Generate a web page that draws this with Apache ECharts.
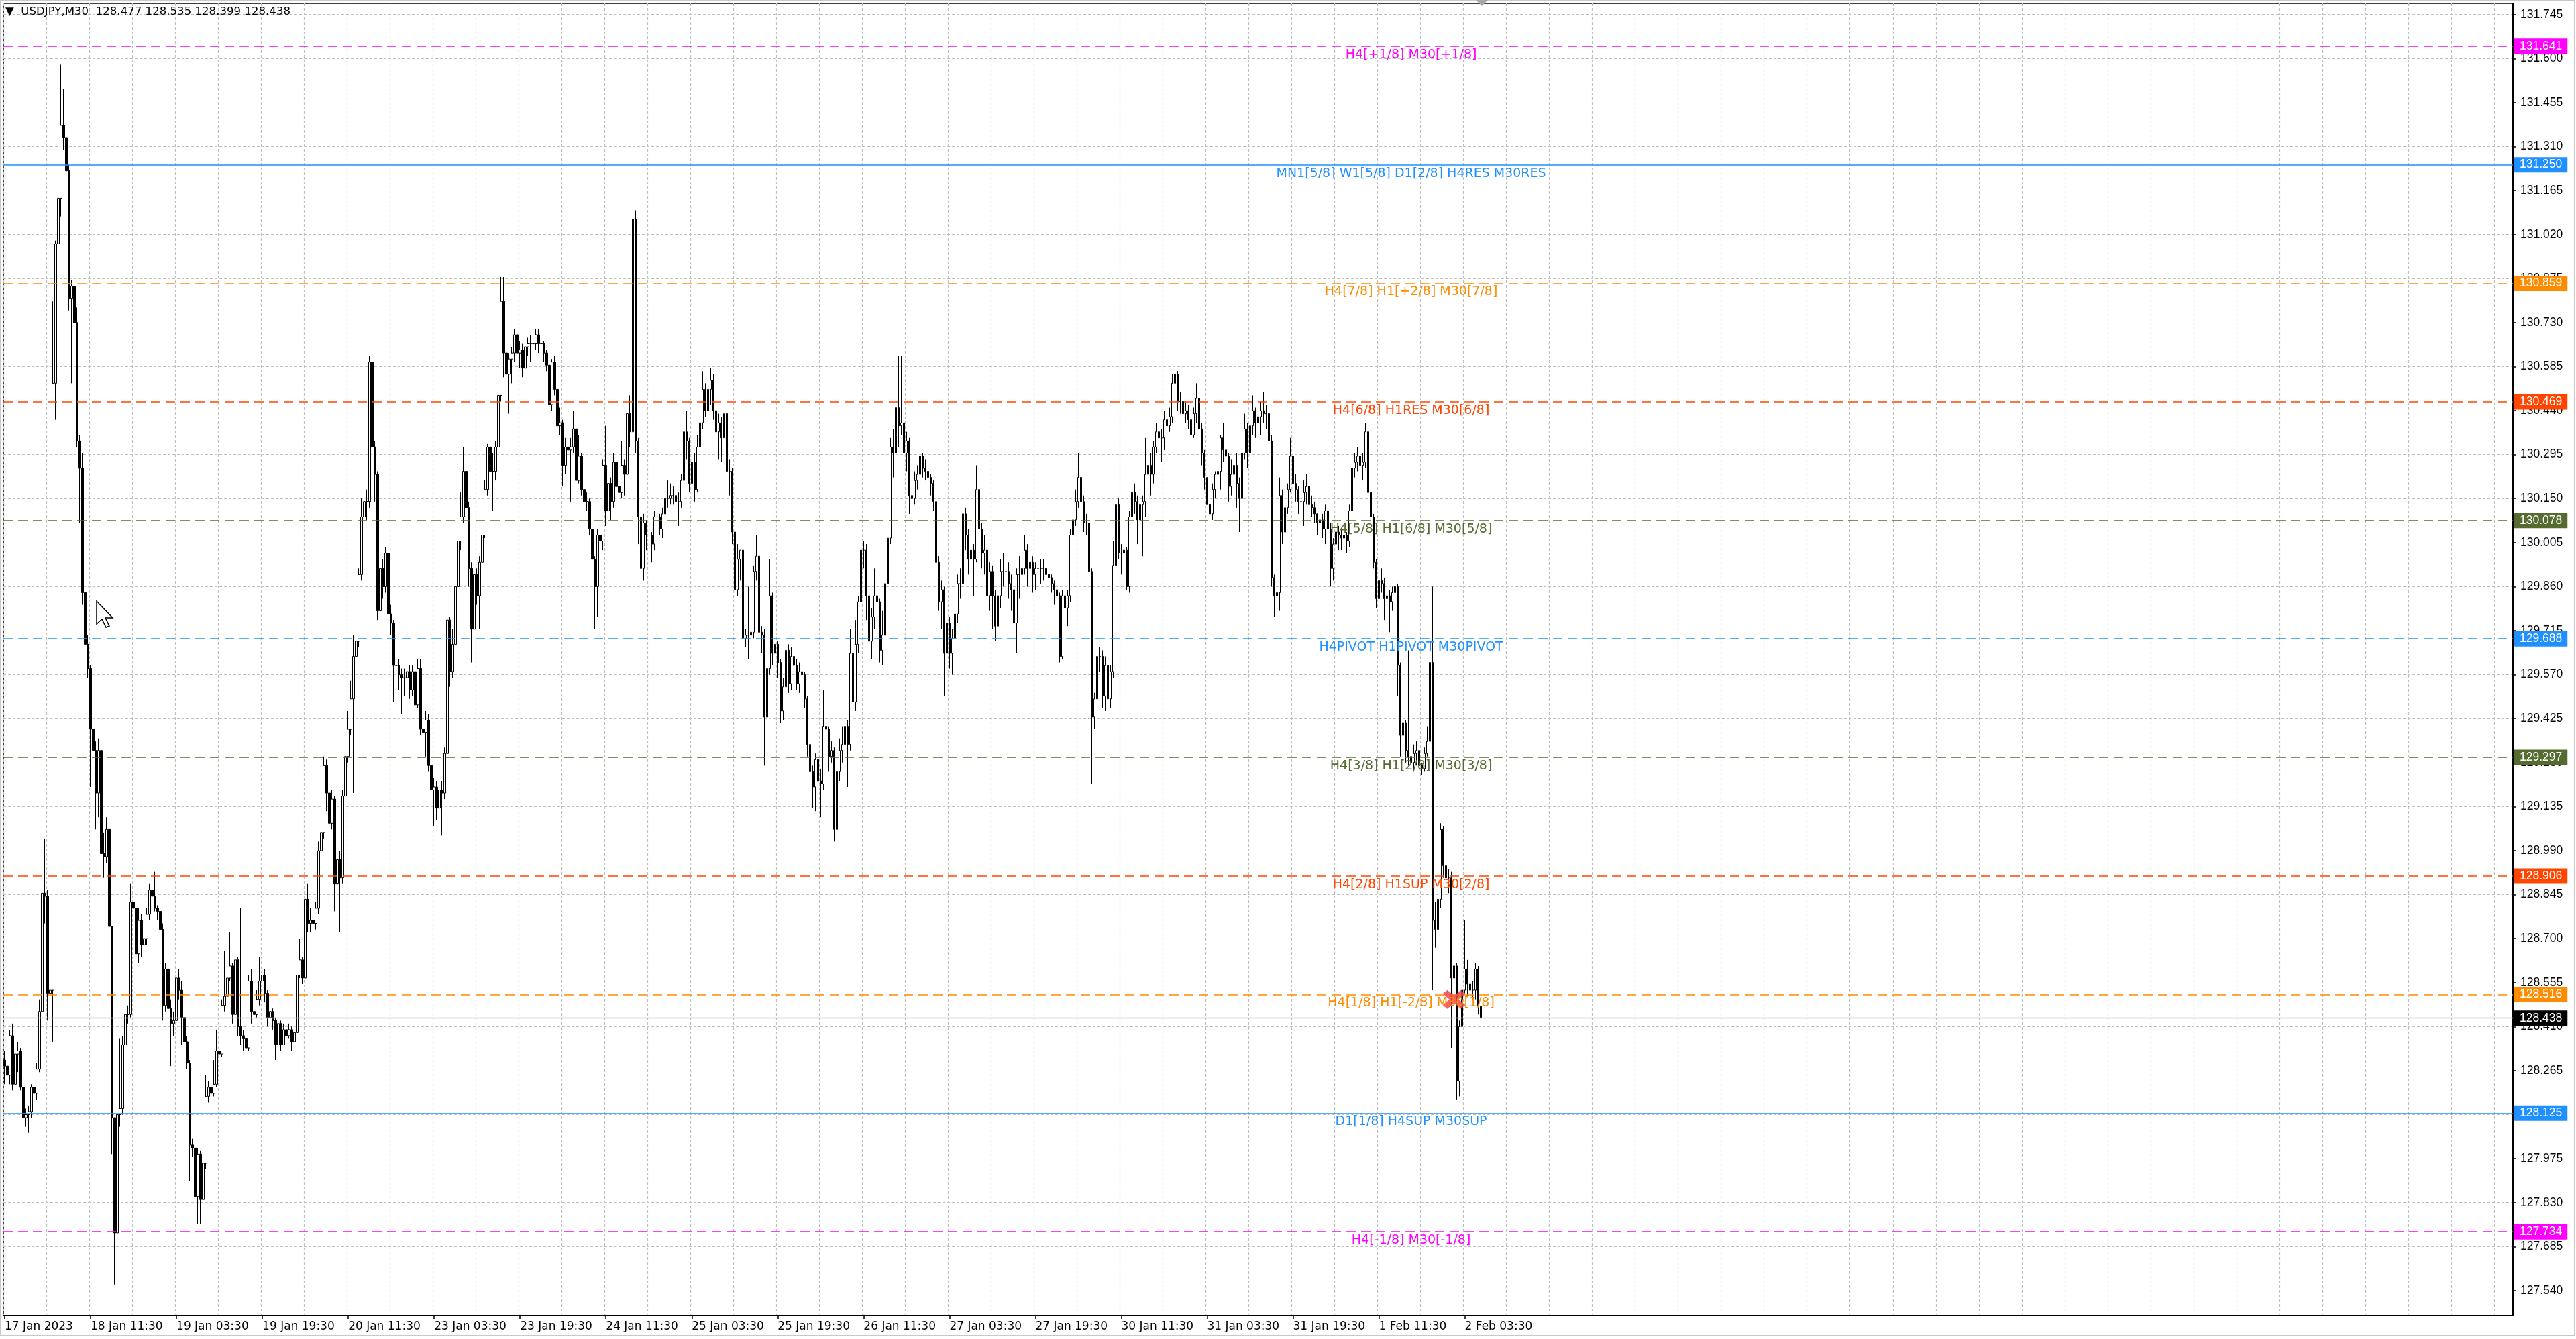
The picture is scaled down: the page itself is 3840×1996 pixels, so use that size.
<!DOCTYPE html>
<html>
<head>
<meta charset="utf-8">
<title>USDJPY,M30</title>
<script src="https://cdn.jsdelivr.net/npm/echarts@6/dist/echarts.min.js"></script>
<style>
html, body { margin: 0; padding: 0; background: #fff; }
#main { width: 3840px; height: 1996px; }
</style>
</head>
<body>
<div id="main"></div>
<script>
// USDJPY M30, one close/high/low per bar, open = previous close
var symbolName = 'USDJPY,M30';
var lastBar = [128.477, 128.535, 128.399, 128.438];
var firstOpen = 128.30;

var closes = [
    128.28,128.25,128.38,128.22,128.32,128.33,128.21,128.11,128.12,128.13,
    128.21,128.19,128.27,128.46,128.85,128.84,128.52,128.53,130.53,130.99,
    131.14,131.38,131.34,131.23,130.81,130.85,130.73,130.34,130.25,129.84,
    129.67,129.59,129.39,129.32,129.18,129.32,128.98,128.97,129.06,128.74,
    128.11,127.73,128.12,128.14,128.35,128.45,128.45,128.82,128.80,128.65,
    128.76,128.68,128.70,128.78,128.86,128.84,128.80,128.79,128.73,128.48,
    128.60,128.47,128.42,128.43,128.57,128.53,128.44,128.36,128.29,128.02,
    128.01,127.85,127.99,127.84,127.96,128.18,128.21,128.19,128.22,128.33,
    128.32,128.48,128.51,128.57,128.61,128.45,128.63,128.41,128.38,128.37,
    128.34,128.56,128.46,128.45,128.50,128.56,128.58,128.52,128.44,128.46,
    128.43,128.35,128.42,128.35,128.40,128.38,128.40,128.36,128.39,128.58,
    128.63,128.57,128.83,128.75,128.76,128.75,128.80,128.99,129.05,129.27,
    129.18,129.08,129.16,128.88,128.96,128.90,129.17,129.30,129.39,129.49,
    129.63,129.68,129.90,130.09,130.14,130.14,130.60,130.32,130.23,129.78,
    129.92,129.86,129.97,129.77,129.74,129.60,129.60,129.57,129.56,129.56,
    129.58,129.52,129.58,129.47,129.59,129.39,129.38,129.42,129.27,129.19,
    129.20,129.13,129.19,129.18,129.31,129.75,129.58,129.67,129.86,130.01,
    130.09,130.24,130.12,129.92,129.72,129.90,129.83,129.94,130.03,130.18,
    130.32,130.24,130.24,130.32,130.49,130.80,130.63,130.56,130.61,130.63,
    130.69,130.63,130.64,130.58,130.65,130.66,130.66,130.66,130.69,130.66,
    130.66,130.63,130.59,130.46,130.60,130.51,130.39,130.40,130.26,130.32,
    130.31,130.32,130.38,130.21,130.29,130.18,130.14,130.14,130.05,129.95,
    129.86,130.03,130.01,130.26,130.11,130.20,130.14,130.27,130.19,130.17,
    130.26,130.23,130.43,130.37,131.07,130.34,130.09,129.92,130.07,130.03,
    130.03,130.00,130.09,130.09,130.05,130.10,130.15,130.15,130.16,130.16,
    130.14,130.14,130.21,130.37,130.34,130.20,130.27,130.18,130.32,130.40,
    130.51,130.44,130.51,130.54,130.44,130.37,130.40,130.35,130.43,130.24,
    130.24,130.04,129.85,129.95,129.98,129.69,129.70,129.70,129.71,129.91,
    129.96,129.71,129.70,129.43,129.59,129.83,129.64,129.67,129.61,129.45,
    129.53,129.65,129.54,129.63,129.60,129.54,129.58,129.57,129.49,129.34,
    129.25,129.20,129.29,129.22,129.21,129.40,129.39,129.30,129.32,129.06,
    129.25,129.32,129.34,129.40,129.34,129.64,129.48,129.67,129.81,129.98,
    129.98,129.83,129.68,129.76,129.83,129.81,129.65,129.70,129.87,130.02,
    130.32,130.30,130.45,130.39,130.40,130.30,130.34,130.16,130.15,130.21,
    130.23,130.29,130.25,130.24,130.22,130.20,130.14,129.94,129.81,129.85,
    129.64,129.74,129.64,129.69,129.77,129.87,129.87,130.10,130.03,129.95,
    129.98,129.95,130.18,130.05,129.97,129.98,129.83,129.91,129.83,129.73,
    129.83,129.91,129.91,129.91,129.87,129.85,129.74,129.90,129.90,129.92,
    129.98,129.92,129.94,129.90,129.92,129.92,129.92,129.92,129.90,129.89,
    129.87,129.85,129.83,129.63,129.83,129.79,129.83,130.03,130.08,130.14,
    130.22,130.14,130.07,130.07,129.91,129.43,129.49,129.63,129.63,129.50,
    129.60,129.49,129.58,129.93,130.13,129.97,129.97,129.98,129.86,130.09,
    130.17,130.14,130.08,130.13,130.14,130.23,130.26,130.23,130.32,130.37,
    130.35,130.35,130.41,130.39,130.42,130.53,130.56,130.47,130.47,130.43,
    130.44,130.41,130.36,130.43,130.48,130.38,130.30,130.22,130.13,130.10,
    130.18,130.23,130.24,130.35,130.31,130.29,130.19,130.23,130.26,130.20,
    130.15,130.30,130.38,130.30,130.39,130.44,130.40,130.42,130.44,130.43,
    130.43,130.34,129.89,129.83,129.84,130.16,130.04,130.12,130.18,130.29,
    130.20,130.18,130.14,130.14,130.17,130.19,130.13,130.12,130.10,130.07,
    130.08,130.05,130.11,130.05,129.92,130.00,130.04,130.03,130.02,130.03,
    130.01,130.11,130.25,130.27,130.29,130.26,130.27,130.37,130.17,130.09,
    129.94,129.82,129.88,129.87,129.82,129.83,129.81,129.84,129.86,129.60,
    129.37,129.41,129.32,129.30,129.28,129.31,129.32,129.27,129.26,129.31,
    129.35,129.61,128.76,128.73,128.83,129.06,128.94,128.90,128.90,128.57,
    128.61,128.23,128.41,128.53,128.60,128.55,128.53,128.53,128.60,128.477,
    128.438
];

var highs = [
    128.33,128.30,128.40,128.42,128.34,128.36,128.34,128.22,128.14,128.15,
    128.22,128.24,128.29,128.50,128.88,129.03,128.86,128.56,130.80,131.00,
    131.16,131.58,131.50,131.54,131.25,130.87,131.23,130.78,130.36,130.30,
    129.87,129.70,129.60,129.42,129.35,129.36,129.35,129.05,129.10,129.08,
    128.74,128.11,128.14,128.37,128.38,128.61,128.48,128.88,128.94,128.82,
    128.80,128.78,128.76,128.80,128.88,128.92,128.92,128.81,128.84,128.75,
    128.62,128.60,128.50,128.46,128.69,128.60,128.56,128.45,128.38,128.30,
    128.04,128.03,128.01,128.00,127.98,128.25,128.23,128.23,128.30,128.40,
    128.36,128.50,128.66,128.59,128.72,128.62,128.64,128.64,128.80,128.40,
    128.38,128.58,128.60,128.52,128.53,128.64,128.62,128.60,128.53,128.49,
    128.47,128.44,128.43,128.43,128.42,128.42,128.42,128.41,128.41,128.62,
    128.70,128.64,128.87,128.88,128.80,128.79,128.82,129.02,129.10,129.30,
    129.29,129.19,129.19,129.17,129.04,128.99,129.19,129.36,129.45,129.55,
    129.70,129.73,129.92,130.15,130.17,130.18,130.62,130.61,130.34,130.24,
    129.95,129.95,129.99,129.99,129.80,129.75,129.65,129.62,129.59,129.59,
    129.61,129.60,129.60,129.60,129.62,129.62,129.42,129.45,129.44,129.28,
    129.23,129.22,129.21,129.22,129.33,129.77,129.76,129.72,129.89,130.04,
    130.17,130.32,130.30,130.14,129.94,129.92,129.92,129.96,130.06,130.21,
    130.33,130.34,130.30,130.34,130.52,130.88,130.88,130.65,130.63,130.65,
    130.71,130.72,130.67,130.66,130.67,130.68,130.69,130.69,130.71,130.71,
    130.68,130.67,130.64,130.60,130.61,130.62,130.52,130.45,130.41,130.35,
    130.36,130.35,130.44,130.39,130.36,130.30,130.22,130.17,130.15,130.06,
    129.96,130.05,130.06,130.28,130.39,130.23,130.22,130.30,130.28,130.21,
    130.34,130.28,130.44,130.49,131.11,131.10,130.35,130.10,130.10,130.08,
    130.06,130.04,130.11,130.11,130.10,130.12,130.17,130.21,130.20,130.19,
    130.18,130.17,130.23,130.42,130.44,130.35,130.30,130.30,130.36,130.45,
    130.57,130.53,130.57,130.58,130.56,130.45,130.43,130.42,130.46,130.44,
    130.28,130.25,130.05,130.00,129.98,129.98,129.72,129.86,129.73,129.93,
    130.03,129.98,129.73,129.72,129.61,129.95,129.84,129.74,129.68,129.62,
    129.56,129.68,129.67,129.66,129.65,129.62,129.61,129.61,129.58,129.50,
    129.35,129.27,129.31,129.31,129.26,129.52,129.43,129.40,129.35,129.33,
    129.27,129.36,129.40,129.43,129.42,129.72,129.66,129.75,129.83,130.00,
    130.01,130.00,129.85,129.79,129.92,129.86,129.82,129.78,130.00,130.23,
    130.35,130.38,130.55,130.62,130.62,130.43,130.37,130.35,130.19,130.24,
    130.26,130.31,130.30,130.28,130.27,130.23,130.21,130.15,129.96,129.88,
    129.86,129.76,129.76,129.72,129.80,129.90,129.92,130.16,130.12,130.05,
    130.02,130.00,130.26,130.27,130.07,130.03,130.00,129.94,129.93,129.85,
    129.85,129.95,129.97,129.95,129.94,129.90,129.87,129.92,129.96,130.07,
    130.03,130.00,129.98,129.96,129.94,129.96,129.95,129.95,129.93,129.93,
    129.90,129.88,129.86,129.84,129.85,129.86,129.85,130.05,130.15,130.18,
    130.30,130.27,130.16,130.10,130.08,129.92,129.51,129.68,129.66,129.65,
    129.63,129.62,129.60,130.01,130.18,130.15,130.00,130.01,129.99,130.11,
    130.26,130.20,130.16,130.15,130.16,130.35,130.29,130.30,130.34,130.40,
    130.47,130.38,130.44,130.44,130.45,130.56,130.57,130.57,130.50,130.48,
    130.47,130.46,130.43,130.45,130.53,130.48,130.40,130.31,130.23,130.15,
    130.20,130.24,130.28,130.36,130.40,130.33,130.30,130.28,130.28,130.30,
    130.22,130.31,130.43,130.40,130.41,130.49,130.45,130.45,130.47,130.50,
    130.46,130.44,130.36,129.90,129.97,130.22,130.18,130.16,130.20,130.35,
    130.30,130.23,130.19,130.19,130.21,130.23,130.22,130.16,130.14,130.10,
    130.10,130.10,130.13,130.20,130.07,130.02,130.06,130.06,130.05,130.05,
    130.04,130.13,130.26,130.30,130.32,130.31,130.30,130.40,130.41,130.18,
    130.10,129.95,129.90,129.92,129.89,129.86,129.85,129.86,129.88,129.87,
    129.61,129.43,129.42,129.65,129.33,129.34,129.35,129.33,129.28,129.33,
    129.40,129.84,129.86,128.82,128.85,129.08,129.07,128.96,128.93,128.92,
    128.64,128.62,128.43,128.58,128.76,128.63,128.58,128.56,128.62,128.61,
    128.535
];

var lows = [
    128.22,128.22,128.22,128.20,128.19,128.26,128.20,128.09,128.08,128.06,
    128.11,128.17,128.17,128.26,128.45,128.75,128.43,128.41,128.36,130.41,
    130.95,131.08,131.30,131.20,130.77,130.53,130.60,130.32,130.07,129.80,
    129.60,129.56,129.20,129.25,129.06,129.10,128.83,128.90,128.95,128.61,
    127.99,127.56,127.62,128.08,128.12,128.34,128.42,128.44,128.76,128.61,
    128.62,128.64,128.66,128.68,128.76,128.82,128.79,128.76,128.72,128.43,
    128.46,128.33,128.28,128.38,128.41,128.50,128.35,128.33,128.27,127.90,
    127.98,127.82,127.76,127.76,127.82,127.94,128.16,128.12,128.18,128.21,
    128.29,128.31,128.46,128.49,128.56,128.42,128.44,128.38,128.35,128.33,
    128.24,128.33,128.42,128.38,128.44,128.48,128.52,128.49,128.41,128.42,
    128.40,128.30,128.34,128.33,128.35,128.36,128.37,128.33,128.35,128.35,
    128.57,128.55,128.56,128.72,128.72,128.70,128.73,128.78,128.98,129.03,
    129.12,129.02,129.06,128.79,128.78,128.72,128.88,129.15,129.28,129.37,
    129.18,129.60,129.66,129.88,130.06,130.08,130.12,130.28,130.14,129.75,
    129.69,129.82,129.84,129.72,129.70,129.48,129.47,129.52,129.44,129.50,
    129.53,129.49,129.50,129.45,129.46,129.37,129.32,129.30,129.25,129.10,
    129.07,129.09,129.12,129.04,129.16,129.29,129.53,129.56,129.65,129.84,
    129.98,130.07,130.06,129.86,129.61,129.70,129.80,129.72,129.90,130.02,
    130.16,130.18,130.11,130.21,130.30,130.47,130.55,130.42,130.43,130.53,
    130.60,130.58,130.58,130.55,130.56,130.62,130.60,130.61,130.64,130.63,
    130.63,130.60,130.57,130.44,130.44,130.49,130.37,130.36,130.19,130.23,
    130.29,130.14,130.30,130.18,130.20,130.16,130.10,130.11,130.03,129.90,
    129.72,129.76,129.98,129.98,130.06,130.04,130.08,130.12,130.16,130.10,
    130.15,130.16,130.18,130.32,130.36,130.30,130.00,129.87,129.88,129.98,
    129.96,129.94,129.98,130.05,130.03,130.02,130.08,130.12,130.13,130.13,
    130.11,130.06,130.12,130.19,130.28,130.17,130.10,130.14,130.17,130.30,
    130.38,130.42,130.39,130.46,130.41,130.33,130.28,130.27,130.32,130.22,
    130.16,130.00,129.80,129.83,129.88,129.66,129.66,129.62,129.56,129.69,
    129.88,129.68,129.64,129.27,129.40,129.57,129.60,129.62,129.56,129.41,
    129.42,129.50,129.51,129.52,129.56,129.52,129.51,129.54,129.46,129.30,
    129.22,129.13,129.12,129.18,129.10,129.19,129.30,129.25,129.28,129.02,
    129.04,129.22,129.28,129.30,129.20,129.32,129.44,129.45,129.64,129.78,
    129.92,129.75,129.63,129.62,129.72,129.77,129.61,129.60,129.68,129.85,
    130.00,130.22,130.25,130.32,130.36,130.26,130.24,130.10,130.07,130.13,
    130.18,130.21,130.22,130.21,130.19,130.16,130.11,129.90,129.78,129.72,
    129.50,129.58,129.59,129.57,129.64,129.74,129.82,129.86,129.98,129.90,
    129.90,129.83,129.94,130.00,129.92,129.90,129.78,129.78,129.72,129.68,
    129.66,129.79,129.86,129.84,129.82,129.78,129.56,129.64,129.82,129.84,
    129.90,129.86,129.82,129.84,129.85,129.88,129.87,129.88,129.86,129.84,
    129.84,129.80,129.79,129.61,129.62,129.76,129.73,129.81,130.01,130.06,
    130.12,130.10,130.04,130.03,129.88,129.21,129.39,129.46,129.58,129.46,
    129.45,129.42,129.46,129.56,129.90,129.95,129.90,129.89,129.85,129.84,
    130.07,130.10,130.00,130.03,129.96,130.09,130.19,130.16,130.20,130.30,
    130.31,130.27,130.31,130.33,130.37,130.40,130.51,130.44,130.43,130.40,
    130.40,130.38,130.33,130.35,130.40,130.35,130.26,130.18,130.06,130.06,
    130.08,130.15,130.20,130.18,130.27,130.25,130.14,130.16,130.18,130.12,
    130.04,130.07,130.28,130.25,130.23,130.36,130.35,130.33,130.36,130.40,
    130.38,130.32,129.86,129.76,129.79,129.78,130.00,130.01,130.10,130.17,
    130.13,130.14,130.10,130.09,130.06,130.13,130.10,130.09,130.07,130.03,
    130.05,130.02,130.00,130.00,129.86,129.88,129.95,129.98,129.98,129.99,
    129.97,129.99,130.08,130.22,130.24,130.22,130.21,130.25,130.15,130.06,
    129.92,129.79,129.80,129.84,129.75,129.78,129.71,129.78,129.72,129.50,
    129.30,129.30,129.28,129.27,129.19,129.25,129.27,129.24,129.24,129.25,
    129.30,129.33,128.53,128.67,128.65,128.80,128.90,128.86,128.85,128.34,
    128.54,128.17,128.18,128.39,128.52,128.51,128.49,128.50,128.50,128.45,
    128.399
];

// one label every 32 bars (16 hours), starting at the first bar
var timeLabels = ['17 Jan 2023', '18 Jan 11:30', '19 Jan 03:30', '19 Jan 19:30', '20 Jan 11:30',
    '23 Jan 03:30', '23 Jan 19:30', '24 Jan 11:30', '25 Jan 03:30', '25 Jan 19:30',
    '26 Jan 11:30', '27 Jan 03:30', '27 Jan 19:30', '30 Jan 11:30', '31 Jan 03:30',
    '31 Jan 19:30', '1 Feb 11:30', '2 Feb 03:30'];

var priceTicks = [127.540, 127.685, 127.830, 127.975, 128.120, 128.265, 128.410, 128.555,
    128.700, 128.845, 128.990, 129.135, 129.280, 129.425, 129.570, 129.715, 129.860,
    130.005, 130.150, 130.295, 130.440, 130.585, 130.730, 130.875, 131.020, 131.165,
    131.310, 131.455, 131.600, 131.745];

var levelPrices = [131.641, 131.250, 130.859, 130.469, 130.078, 129.688, 129.297, 128.906, 128.516, 128.125, 127.734];
var levelNames = [
    'H4[+1/8] M30[+1/8]',
    'MN1[5/8] W1[5/8] D1[2/8] H4RES M30RES',
    'H4[7/8] H1[+2/8] M30[7/8]',
    'H4[6/8] H1RES M30[6/8]',
    'H4[5/8] H1[6/8] M30[5/8]',
    'H4PIVOT H1PIVOT M30PIVOT',
    'H4[3/8] H1[2/8] M30[3/8]',
    'H4[2/8] H1SUP M30[2/8]',
    'H4[1/8] H1[-2/8] M30[1/8]',
    'D1[1/8] H4SUP M30SUP',
    'H4[-1/8] M30[-1/8]'
];
var bidPrice = 128.438;
var crossBar = 540;
var crossPrice = 128.50;

// styles
var FONT = 'DejaVu Sans';
var PRICE_FONT = 'Liberation Sans';
var levelColors = ['#ff00ff', '#1e90ff', '#ff8c00', '#ff4500', '#556b2f', '#1e90ff',
    '#556b2f', '#ff4500', '#ff8c00', '#1e90ff', '#ff00ff'];
var levelSolid = [false, true, false, false, false, false, false, false, false, true, false];
var SLOTS = 935;        // bar slots across the plot (4px each)
var LABEL_BAR = 524;    // where the level names sit
var GRID_LINE = { color: '#c0c0c0', type: [4, 3], width: 1.2 };

var categories = [];
for (var i = 0; i < SLOTS; i++) categories.push(i);

var candles = [];
var prevClose = firstOpen;
for (var i = 0; i < closes.length; i++) {
    candles.push([prevClose, closes[i], lows[i], highs[i]]);
    prevClose = closes[i];
}

var lineData = [];
var nameData = [];
for (var i = 0; i < levelPrices.length; i++) {
    lineData.push({
        yAxis: levelPrices[i],
        lineStyle: {
            color: levelColors[i],
            type: levelSolid[i] ? 'solid' : [14, 8],
            width: 1.6
        },
        label: { backgroundColor: levelColors[i] }
    });
    nameData.push({
        name: levelNames[i],
        coord: [LABEL_BAR, levelPrices[i]],
        symbol: 'circle',
        symbolSize: 0,
        label: { color: levelColors[i] }
    });
}
lineData.push({
    yAxis: bidPrice,
    lineStyle: { color: '#bcbcbc', type: 'solid', width: 1.3 },
    label: { backgroundColor: '#000000' }
});
nameData.push({
    name: '',
    coord: [crossBar, crossPrice],
    symbol: 'path://M2,0 L5,3 L8,0 L10,2 L7,5 L10,8 L8,10 L5,7 L2,10 L0,8 L3,5 L0,2 Z',
    symbolSize: [34, 28],
    itemStyle: { color: 'rgba(240,70,70,0.85)' },
    label: { show: false }
});

var chart = echarts.init(document.getElementById('main'));
var option = {
    animation: false,
    backgroundColor: '#ffffff',
    title: {
        text: '\u25BC  ' + symbolName + '  ' + lastBar.map(function (v) { return v.toFixed(3); }).join(' '),
        left: 8,
        top: 9,
        padding: 0,
        textStyle: { fontFamily: FONT, fontSize: 16.6, fontWeight: 'normal', color: '#000' }
    },
    grid: {
        left: 5,
        right: 94,
        top: 5,
        bottom: 35,
        show: true,
        borderColor: '#000',
        borderWidth: 1.5
    },
    xAxis: {
        type: 'category',
        data: categories,
        boundaryGap: true,
        axisLine: { lineStyle: { color: '#000', width: 2 } },
        axisTick: {
            show: true,
            length: 5,
            alignWithLabel: true,
            interval: function (idx) { return idx % 32 === 0 && idx / 32 < timeLabels.length; },
            lineStyle: { color: '#000', width: 1.5 }
        },
        axisLabel: {
            interval: function (idx) { return idx % 32 === 0 && idx / 32 < timeLabels.length; },
            formatter: function (v, idx) { return timeLabels[idx / 32] || ''; },
            align: 'left',
            margin: 8,
            color: '#000',
            fontFamily: FONT,
            fontSize: 17
        },
        splitLine: {
            show: true,
            interval: function (idx) { return idx % 16 === 0; },
            lineStyle: GRID_LINE
        }
    },
    yAxis: {
        type: 'value',
        position: 'right',
        min: 127.458,
        max: 131.782,
        scale: true,
        axisLine: { show: true, lineStyle: { color: '#000', width: 2 } },
        axisTick: {
            show: true,
            length: 4,
            customValues: priceTicks,
            lineStyle: { color: '#000', width: 1.5 }
        },
        axisLabel: {
            customValues: priceTicks,
            formatter: function (v) { return v.toFixed(3); },
            margin: 11,
            color: '#000',
            fontFamily: PRICE_FONT,
            fontSize: 17.5
        },
        splitLine: { show: true, lineStyle: GRID_LINE }
    },
    graphic: [
        {
            type: 'rect',
            shape: { x: 1, y: 1, width: 3837, height: 1990 },
            style: { fill: 'none', stroke: '#c8c8c8', lineWidth: 2 },
            silent: true
        },
        {
            type: 'polygon',
            shape: { points: [[2200, 0], [2218, 0], [2209, 9]] },
            style: { fill: '#a8a8a8' },
            silent: true
        },
        {
            type: 'polygon',
            shape: { points: [[144, 896], [144, 930], [152, 923], [158, 935], [163, 933], [157, 921], [168, 921]] },
            style: { fill: '#ffffff', stroke: '#000000', lineWidth: 1.5 },
            silent: true,
            z: 100
        }
    ],
    series: [{
        type: 'candlestick',
        data: candles,
        barWidth: 3,
        silent: true,
        itemStyle: {
            color: '#ffffff',
            color0: '#000000',
            borderColor: '#000000',
            borderColor0: '#000000',
            borderWidth: 1
        },
        markLine: {
            silent: true,
            symbol: ['none', 'none'],
            precision: 3,
            animation: false,
            label: {
                show: true,
                position: 'end',
                distance: 2,
                formatter: function (p) { return Number(p.value).toFixed(3); },
                color: '#ffffff',
                fontFamily: PRICE_FONT,
                fontSize: 17.5,
                lineHeight: 18,
                padding: [3, 8, 2, 8]
            },
            data: lineData
        },
        markPoint: {
            silent: true,
            animation: false,
            label: {
                show: true,
                position: 'inside',
                offset: [0, 13],
                formatter: '{b}',
                fontFamily: FONT,
                fontSize: 19
            },
            data: nameData
        }
    }]
};
chart.setOption(option);
</script>
</body>
</html>
